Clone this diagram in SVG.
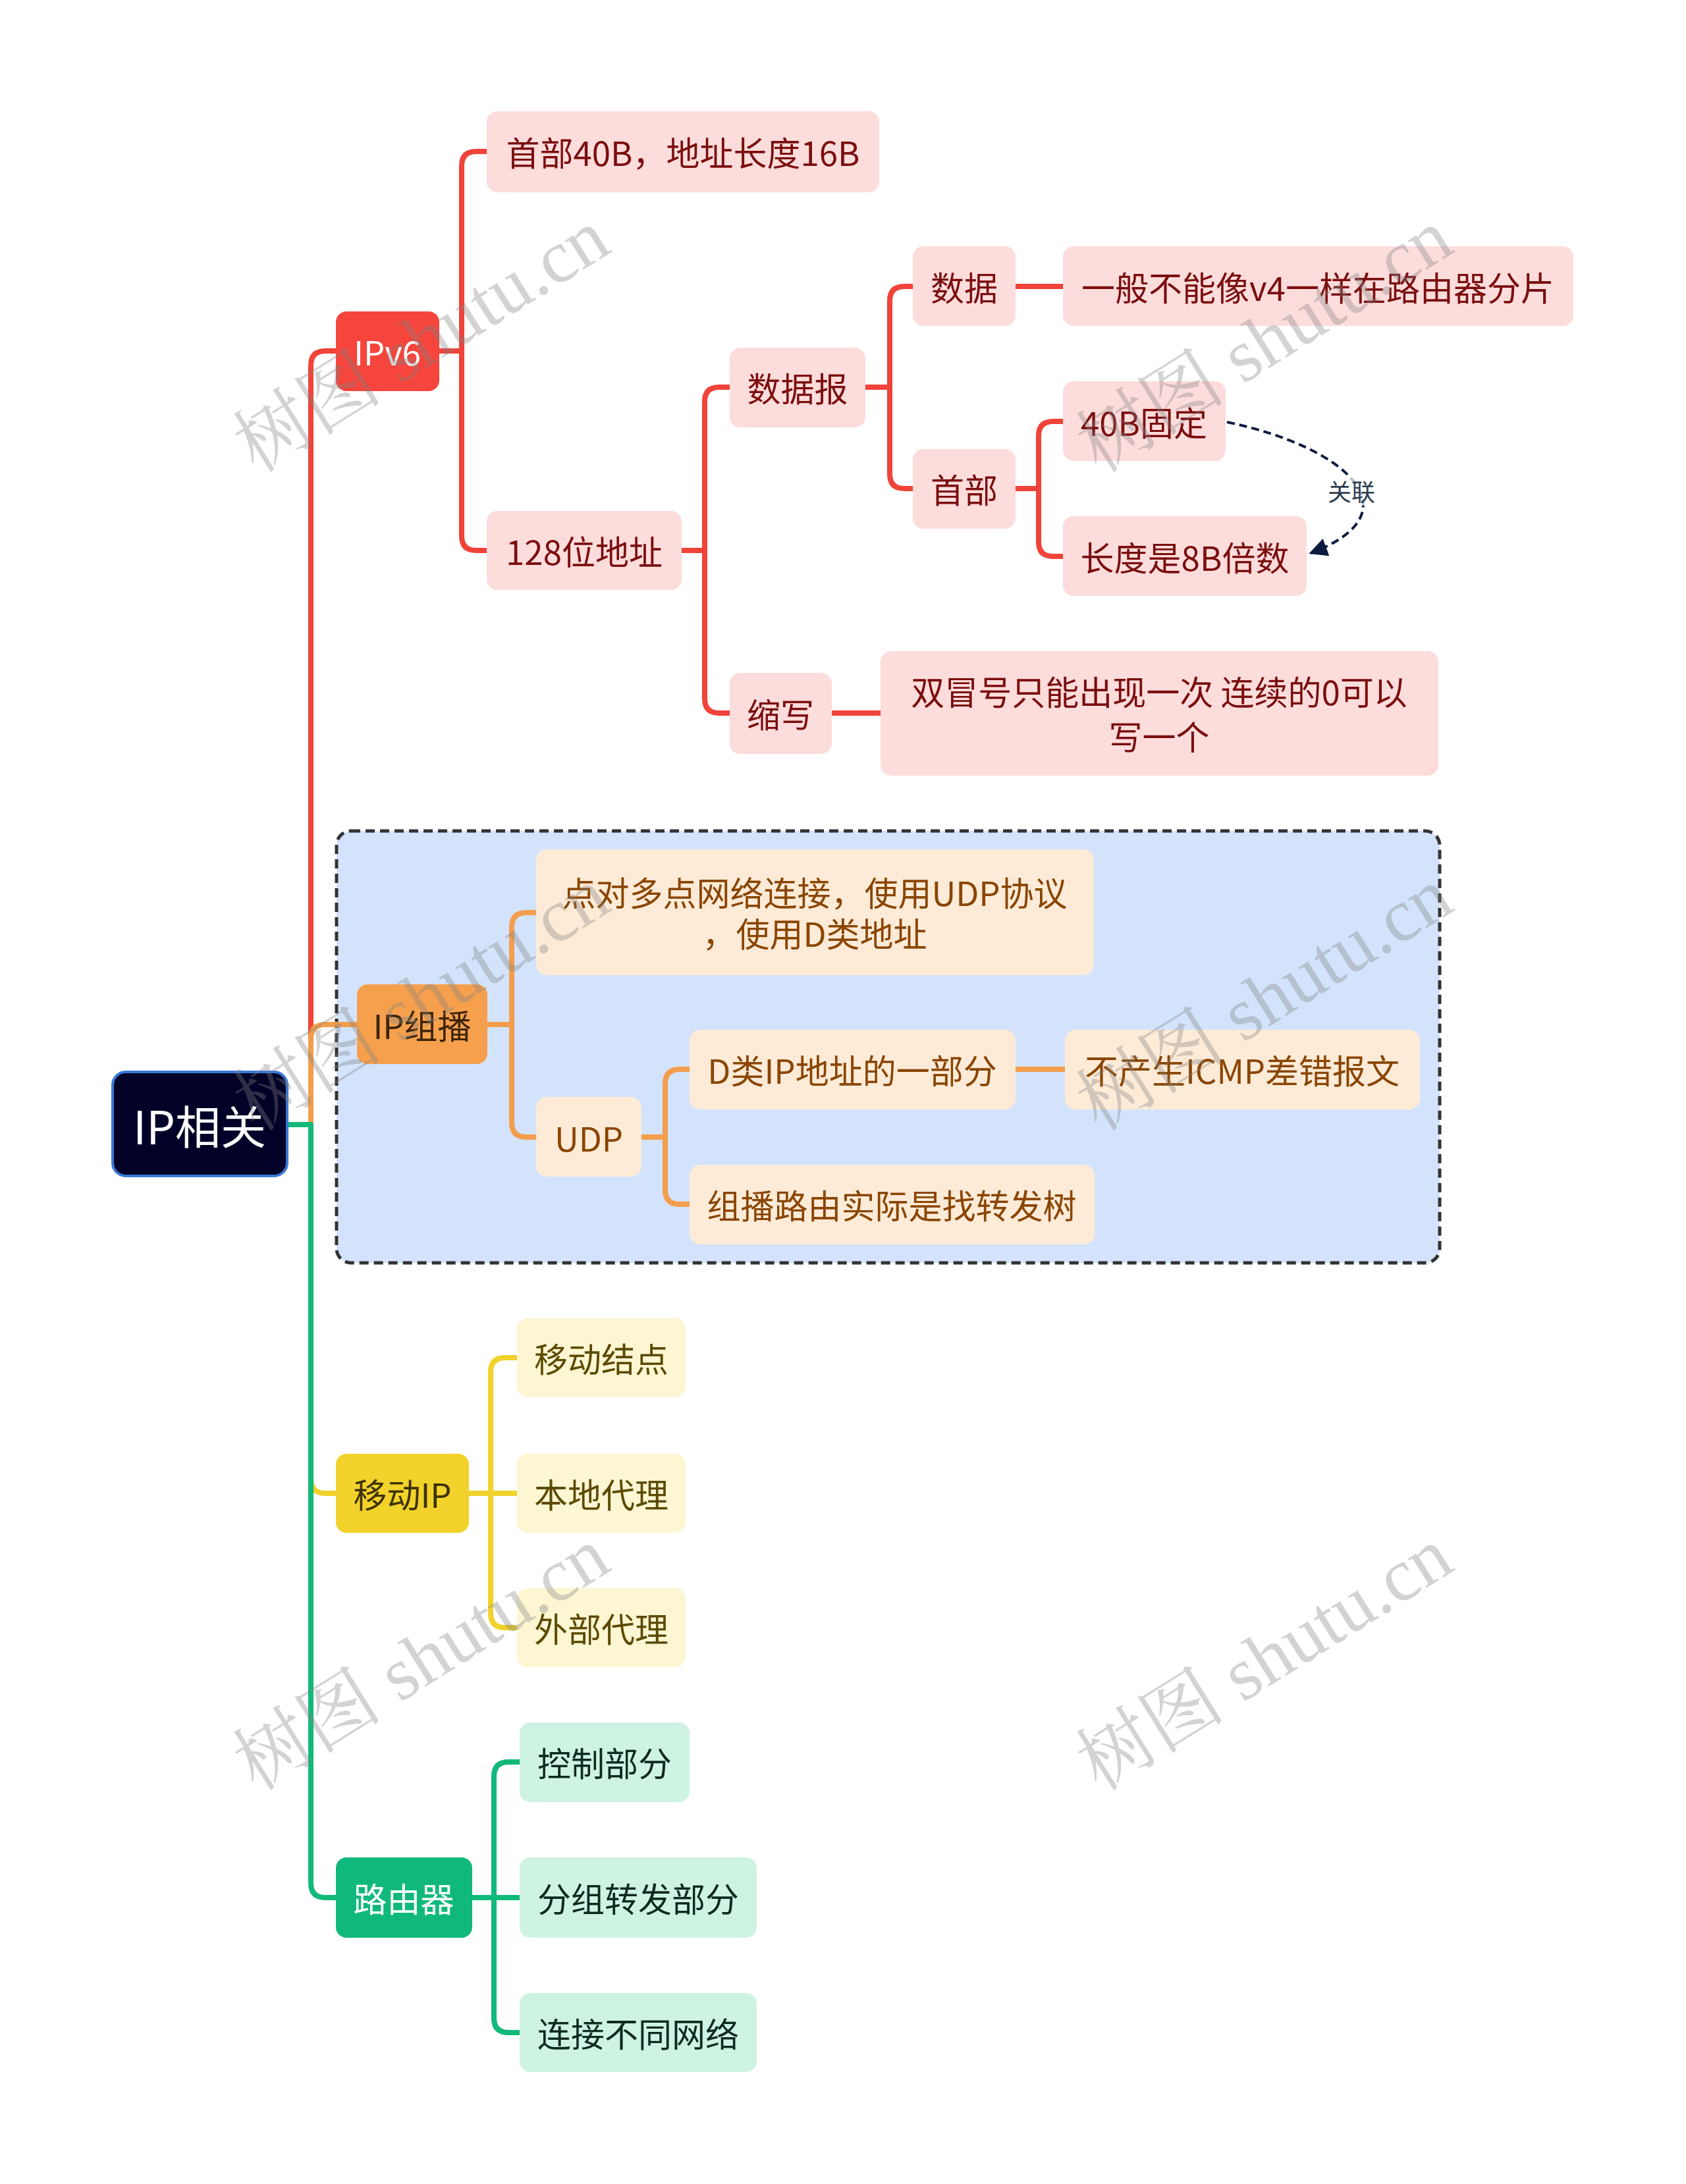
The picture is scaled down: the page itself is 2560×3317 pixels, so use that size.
<svg xmlns="http://www.w3.org/2000/svg" width="2560" height="3317" viewBox="0 0 2560 3317">
<style>
text{font-family:"Noto Sans CJK SC","Noto Sans",sans-serif;text-anchor:middle;dominant-baseline:central}
.ln{fill:none;stroke-width:8;stroke-linejoin:round}
.red{stroke:#f0433a}.org{stroke:#f29e4c}.yel{stroke:#f1d22b}.grn{stroke:#12b97a}
.sr{fill:#fddcdc}.tr{fill:#7b0e0e;font-size:51px}
.so{fill:#fdebd8}.to{fill:#8a4500;font-size:51px}
.sy{fill:#fdf6d3}.ty{fill:#5c4a00;font-size:51px}
.sg{fill:#cff3e2}.tg{fill:#0f2a20;font-size:51px}
.wm{font-family:"Liberation Serif","Noto Serif CJK SC","Noto Sans CJK SC",serif;font-size:114px;fill:#808080;fill-opacity:0.35;text-anchor:middle}
</style>
<defs>
<marker id="arr" viewBox="0 0 10 10" refX="9" refY="5" markerWidth="7" markerHeight="7" orient="auto-start-reverse" markerUnits="strokeWidth">
<path d="M0,0 L10,5 L0,10 z" fill="#0d1b3e"/>
</marker>
</defs>
<rect width="2560" height="3317" fill="#ffffff"/>

<g id="frame">
<rect x="511" y="1262" width="1675" height="656" rx="22" fill="#d3e3fb" stroke="#333333" stroke-width="5" stroke-dasharray="14,8"/>
</g>

<g id="connectors">
<path class="ln red" d="M437,1708 H472 V555 Q472,533 494,533 H510"/>
<path class="ln org" d="M437,1708 H472 V1578 Q472,1556 494,1556 H542"/>
<path class="ln yel" d="M437,1708 H472 V2246 Q472,2268 494,2268 H510"/>
<path class="ln grn" d="M437,1708 H472 V2860 Q472,2882 494,2882 H510"/>

<path class="ln red" d="M667,533 H701 V252 Q701,230 723,230 H739"/>
<path class="ln red" d="M667,533 H701 V814 Q701,836 723,836 H739"/>
<path class="ln red" d="M1035,836 H1070 V610 Q1070,588 1092,588 H1108"/>
<path class="ln red" d="M1035,836 H1070 V1061 Q1070,1083 1092,1083 H1108"/>
<path class="ln red" d="M1314,588 H1351 V457 Q1351,435 1373,435 H1386"/>
<path class="ln red" d="M1314,588 H1351 V720 Q1351,742 1373,742 H1386"/>
<path class="ln red" d="M1542,435 H1614"/>
<path class="ln red" d="M1542,742 H1577 V662 Q1577,640 1599,640 H1614"/>
<path class="ln red" d="M1542,742 H1577 V823 Q1577,845 1599,845 H1614"/>
<path class="ln red" d="M1263,1083 H1337"/>

<path class="ln org" d="M740,1556 H777 V1408 Q777,1386 799,1386 H814"/>
<path class="ln org" d="M740,1556 H777 V1705 Q777,1727 799,1727 H814"/>
<path class="ln org" d="M974,1727 H1010 V1646 Q1010,1624 1032,1624 H1047"/>
<path class="ln org" d="M974,1727 H1010 V1807 Q1010,1829 1032,1829 H1047"/>
<path class="ln org" d="M1542,1624 H1617"/>

<path class="ln yel" d="M712,2268 H745 V2084 Q745,2062 767,2062 H785"/>
<path class="ln yel" d="M712,2268 H785"/>
<path class="ln yel" d="M712,2268 H745 V2450 Q745,2472 767,2472 H785"/>

<path class="ln grn" d="M717,2882 H750 V2698 Q750,2676 772,2676 H789"/>
<path class="ln grn" d="M717,2882 H789"/>
<path class="ln grn" d="M717,2882 H750 V3065 Q750,3087 772,3087 H789"/>

<path d="M1863,641 C2050,680 2150,780 1990,840" fill="none" stroke="#0d1b3e" stroke-width="4" stroke-dasharray="12,7" marker-end="url(#arr)"/>
<rect x="2010" y="722" width="84" height="46" fill="#ffffff" fill-opacity="0.7"/>
<text x="2052" y="745" style="font-size:36px;fill:#2c3e50">关联</text>
</g>

<g id="root">
<rect x="171" y="1628" width="265" height="158" rx="20" fill="#020228" stroke="#3a78d8" stroke-width="4"/>
<text x="303" y="1708" style="font-size:69px;fill:#ffffff">IP相关</text>
</g>

<g id="ipv6">
<rect x="510" y="473" width="157" height="121" rx="16" fill="#f5453d"/>
<text x="588" y="533" style="font-size:51px;fill:#ffffff">IPv6</text>
</g>
<g id="n-header40"><rect class="sr" x="739" y="169" width="596" height="123" rx="16"/><text class="tr" x="1037" y="230">首部40B，地址长度16B</text></g>
<g id="n-128"><rect class="sr" x="739" y="776" width="296" height="120" rx="16"/><text class="tr" x="887" y="836">128位地址</text></g>
<g id="n-datagram"><rect class="sr" x="1108" y="528" width="206" height="121" rx="16"/><text class="tr" x="1211" y="588">数据报</text></g>
<g id="n-abbr"><rect class="sr" x="1108" y="1022" width="155" height="123" rx="16"/><text class="tr" x="1185" y="1083">缩写</text></g>
<g id="n-data"><rect class="sr" x="1386" y="374" width="156" height="121" rx="16"/><text class="tr" x="1464" y="435">数据</text></g>
<g id="n-head"><rect class="sr" x="1386" y="682" width="156" height="121" rx="16"/><text class="tr" x="1464" y="742">首部</text></g>
<g id="n-frag"><rect class="sr" x="1614" y="374" width="775" height="121" rx="16"/><text class="tr" x="2001" y="435">一般不能像v4一样在路由器分片</text></g>
<g id="n-40b"><rect class="sr" x="1614" y="579" width="247" height="121" rx="16"/><text class="tr" x="1737" y="640">40B固定</text></g>
<g id="n-8b"><rect class="sr" x="1614" y="784" width="370" height="121" rx="16"/><text class="tr" x="1799" y="845">长度是8B倍数</text></g>
<g id="n-colon"><rect class="sr" x="1337" y="989" width="847" height="189" rx="16"/><text class="tr" x="1760" y="1049">双冒号只能出现一次 连续的0可以</text><text class="tr" x="1760" y="1117">写一个</text></g>

<g id="multicast">
<rect x="542" y="1495" width="198" height="121" rx="16" fill="#f6a04d"/>
<text x="641" y="1556" style="font-size:51px;fill:#3d2408">IP组播</text>
</g>
<g id="n-p2mp"><rect class="so" x="814" y="1290" width="847" height="191" rx="16"/><text class="to" x="1237" y="1354">点对多点网络连接，使用UDP协议</text><text class="to" x="1237" y="1416">，使用D类地址</text></g>
<g id="n-udp"><rect class="so" x="814" y="1666" width="160" height="121" rx="16"/><text class="to" x="894" y="1727">UDP</text></g>
<g id="n-dclass"><rect class="so" x="1047" y="1564" width="495" height="121" rx="16"/><text class="to" x="1294" y="1624">D类IP地址的一部分</text></g>
<g id="n-icmp"><rect class="so" x="1617" y="1564" width="539" height="121" rx="16"/><text class="to" x="1886" y="1624">不产生ICMP差错报文</text></g>
<g id="n-tree"><rect class="so" x="1047" y="1769" width="615" height="121" rx="16"/><text class="to" x="1354" y="1829">组播路由实际是找转发树</text></g>

<g id="mobile">
<rect x="510" y="2208" width="202" height="120" rx="16" fill="#f3d22b"/>
<text x="611" y="2268" style="font-size:51px;fill:#3d3300">移动IP</text>
</g>
<g id="n-mnode"><rect class="sy" x="785" y="2002" width="256" height="120" rx="16"/><text class="ty" x="913" y="2062">移动结点</text></g>
<g id="n-home"><rect class="sy" x="785" y="2208" width="256" height="120" rx="16"/><text class="ty" x="913" y="2268">本地代理</text></g>
<g id="n-foreign"><rect class="sy" x="785" y="2412" width="256" height="120" rx="16"/><text class="ty" x="913" y="2472">外部代理</text></g>

<g id="router">
<rect x="510" y="2821" width="207" height="122" rx="16" fill="#10b97b"/>
<text x="613" y="2882" style="font-size:51px;fill:#ffffff">路由器</text>
</g>
<g id="n-ctrl"><rect class="sg" x="789" y="2616" width="258" height="121" rx="16"/><text class="tg" x="918" y="2676">控制部分</text></g>
<g id="n-fwd"><rect class="sg" x="789" y="2821" width="360" height="122" rx="16"/><text class="tg" x="969" y="2882">分组转发部分</text></g>
<g id="n-conn"><rect class="sg" x="789" y="3027" width="360" height="120" rx="16"/><text class="tg" x="969" y="3087">连接不同网络</text></g>

<g id="watermarks">
<text class="wm" transform="translate(640,518) rotate(-32)">树图 shutu.cn</text>
<text class="wm" transform="translate(1920,518) rotate(-32)">树图 shutu.cn</text>
<text class="wm" transform="translate(640,1518) rotate(-32)">树图 shutu.cn</text>
<text class="wm" transform="translate(1920,1518) rotate(-32)">树图 shutu.cn</text>
<text class="wm" transform="translate(640,2520) rotate(-32)">树图 shutu.cn</text>
<text class="wm" transform="translate(1920,2520) rotate(-32)">树图 shutu.cn</text>
</g>
</svg>
